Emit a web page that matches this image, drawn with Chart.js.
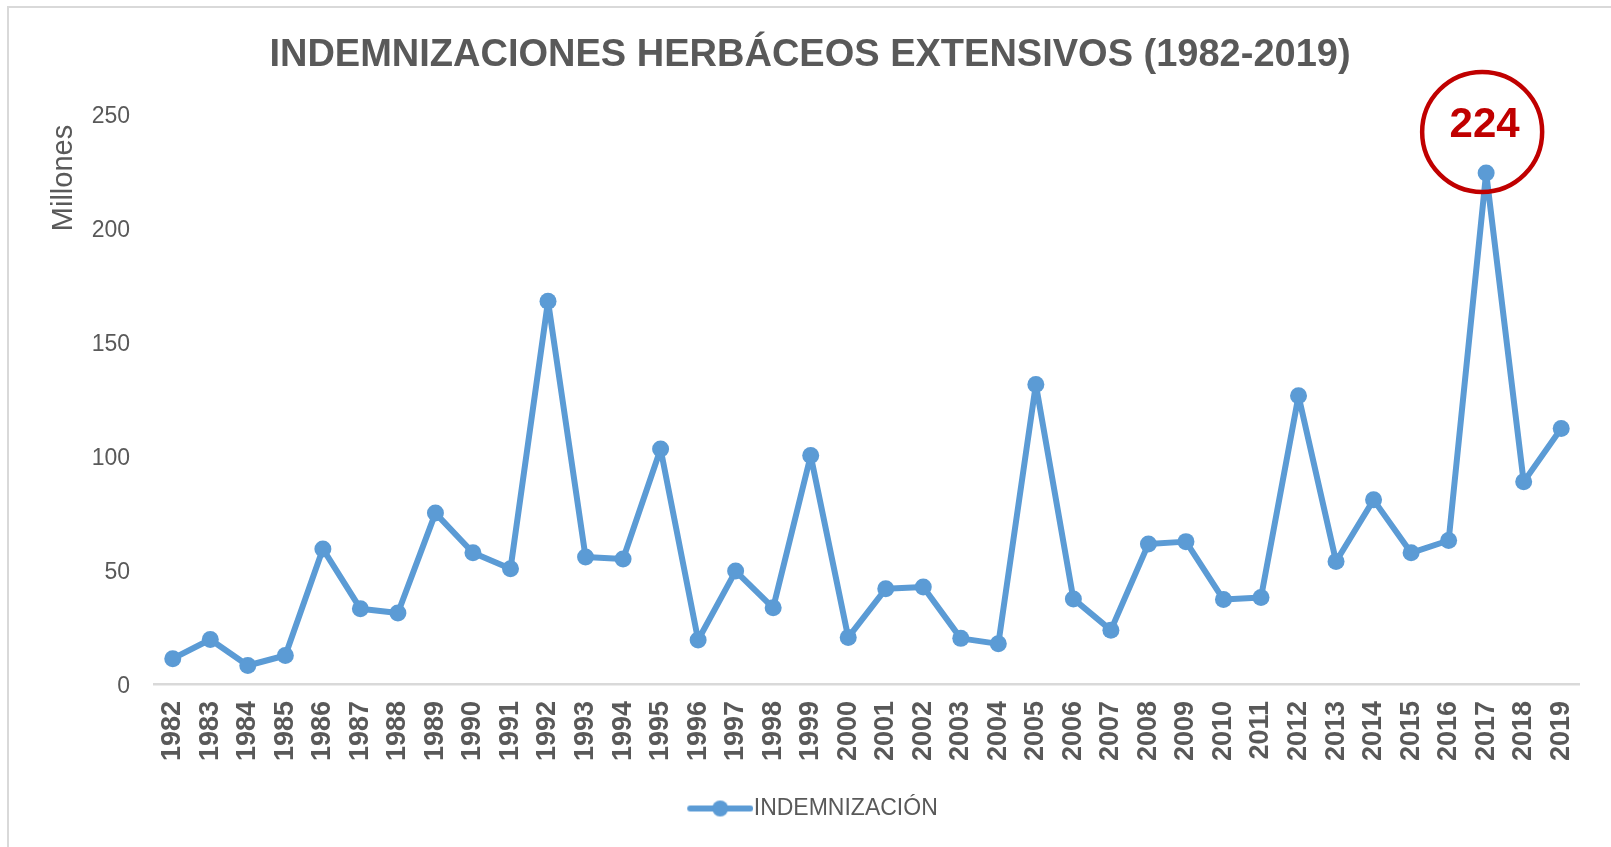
<!DOCTYPE html>
<html>
<head>
<meta charset="utf-8">
<script src="https://cdn.jsdelivr.net/npm/chart.js@4"></script>
<style>
  html, body { margin: 0; padding: 0; background: #ffffff; }
  #wrap { position: relative; width: 1611px; height: 847px; overflow: hidden; }
  #frame { position: absolute; left: 7px; top: 6px; width: 1700px; height: 900px;
           border-left: 2px solid #D9D9D9; border-top: 2px solid #D9D9D9; }
  canvas { position: absolute; left: 0; top: 0; }
</style>
</head>
<body>
<div id="wrap">
  <div id="frame"></div>
  <canvas id="c" width="1611" height="847"></canvas>
</div>
<script>
const years = ['1982','1983','1984','1985','1986','1987','1988','1989','1990','1991',
  '1992','1993','1994','1995','1996','1997','1998','1999','2000','2001',
  '2002','2003','2004','2005','2006','2007','2008','2009','2010','2011',
  '2012','2013','2014','2015','2016','2017','2018','2019'];
const indemnizacion = [11.1, 19.5, 8.1, 12.5, 59.2, 33.0, 31.1, 74.9, 57.5, 50.5,
  167.8, 55.7, 54.8, 103.0, 19.3, 49.5, 33.4, 100.1, 20.4, 41.7,
  42.5, 20.0, 17.6, 131.3, 37.3, 23.6, 61.4, 62.4, 37.0, 37.9,
  126.3, 53.7, 80.7, 57.5, 62.9, 224, 88.6, 112.0];
const seriesLabel = 'INDEMNIZACIÓN';
const titleText = 'INDEMNIZACIONES HERBÁCEOS EXTENSIVOS (1982-2019)';
const yAxisTitle = 'Millones';
const yTicks = [0, 50, 100, 150, 200, 250];
const highlightYear = '2017';
const highlightLabel = '224';

const BLUE = '#5B9BD5';
const GRAY = '#595959';
const RED = '#C00000';

// legend icon: line with a marker (transparent margin on the left shifts it right)
const icon = document.createElement('canvas');
icon.width = 82; icon.height = 18;
(function () {
  const g = icon.getContext('2d');
  g.strokeStyle = BLUE; g.lineWidth = 6; g.lineCap = 'round';
  g.beginPath(); g.moveTo(19, 9); g.lineTo(79, 9); g.stroke();
  g.fillStyle = BLUE; g.beginPath(); g.arc(49, 9, 8, 0, Math.PI * 2); g.fill();
})();

const extras = {
  id: 'extras',
  afterDraw(chart) {
    const ctx = chart.ctx;
    // y-axis title
    ctx.save();
    ctx.fillStyle = GRAY;
    ctx.font = '29px "Liberation Sans", Arial, sans-serif';
    ctx.translate(72, 178);
    ctx.rotate(-Math.PI / 2);
    ctx.textAlign = 'center';
    ctx.textBaseline = 'alphabetic';
    ctx.fillText(yAxisTitle, 0, 0);
    ctx.restore();
    // highlight circle
    const xs = chart.scales.x, ys = chart.scales.y;
    const idx = years.indexOf(highlightYear);
    const px = xs.getPixelForValue(idx);
    const py = ys.getPixelForValue(indemnizacion[idx]);
    ctx.save();
    ctx.strokeStyle = RED; ctx.lineWidth = 4.5;
    ctx.beginPath(); ctx.arc(px - 4, py - 41, 60, 0, Math.PI * 2); ctx.stroke();
    ctx.fillStyle = RED;
    ctx.font = 'bold 42px "Liberation Sans", Arial, sans-serif';
    ctx.textAlign = 'center'; ctx.textBaseline = 'middle';
    ctx.fillText(highlightLabel, px - 1.5, py - 47);
    ctx.restore();
  }
};

new Chart(document.getElementById('c'), {
  type: 'line',
  data: {
    labels: years,
    datasets: [{
      label: seriesLabel,
      data: indemnizacion,
      borderColor: BLUE,
      backgroundColor: BLUE,
      borderWidth: 6,
      borderJoinStyle: 'round',
      borderCapStyle: 'round',
      pointRadius: 8.5,
      pointHoverRadius: 8.5,
      pointBackgroundColor: BLUE,
      pointBorderWidth: 0,
      tension: 0,
      clip: false
    }]
  },
  options: {
    responsive: false,
    animation: false,
    devicePixelRatio: 1,
    layout: { padding: { left: 39, right: 30, top: 0, bottom: 17 } },
    plugins: {
      title: {
        display: true,
        text: titleText,
        color: GRAY,
        font: { family: '"Liberation Sans", Arial, sans-serif', size: 38, weight: 'bold', lineHeight: 1.2 },
        padding: { top: 33, bottom: 35 }
      },
      legend: {
        display: true,
        position: 'bottom',
        labels: {
          color: GRAY,
          font: { family: '"Liberation Sans", Arial, sans-serif', size: 23 },
          usePointStyle: true,
          pointStyleWidth: 60,
          padding: 18,
          generateLabels(chart) {
            return [{ text: seriesLabel, pointStyle: icon, fillStyle: BLUE, strokeStyle: BLUE,
                      lineWidth: 0, hidden: false, datasetIndex: 0, fontColor: GRAY }];
          }
        }
      },
      tooltip: { enabled: false }
    },
    scales: {
      x: {
        offset: true,
        grid: { display: false, drawTicks: false },
        border: { display: true, color: '#D9D9D9', width: 2.5 },
        ticks: {
          color: GRAY,
          font: { family: '"Liberation Sans", Arial, sans-serif', size: 27, weight: 'bold' },
          minRotation: 90, maxRotation: 90, padding: 17, autoSkip: false
        },
        afterFit(s) { s.height = 95; }
      },
      y: {
        min: 0, max: 250,
        grid: { display: false, drawTicks: false },
        border: { display: false },
        afterBuildTicks(s) { s.ticks = yTicks.map(v => ({ value: v })); },
        ticks: {
          color: GRAY,
          font: { family: '"Liberation Sans", Arial, sans-serif', size: 23 },
          padding: 24,
          labelOffset: 3
        },
        afterFit(s) { s.width = 115; }
      }
    }
  },
  plugins: [extras]
});
</script>
</body>
</html>
